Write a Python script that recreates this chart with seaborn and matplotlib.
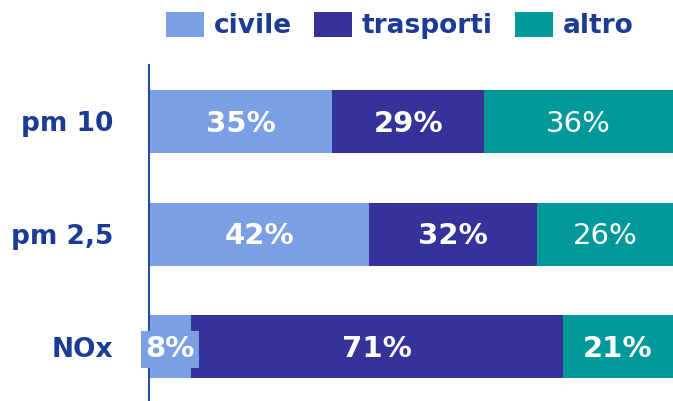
import matplotlib
matplotlib.use("Agg")
import matplotlib.pyplot as plt
import seaborn as sns
import numpy as np
import pandas as pd
from matplotlib.patches import Patch

# data
categories = ["pm 10", "pm 2,5", "NOx"]
series = ["civile", "trasporti", "altro"]
civile = [35, 42, 8]
trasporti = [29, 32, 71]
altro = [36, 26, 21]
bold_labels = [[True, True, False], [True, True, False], [True, True, True]]

colors = ["#7A9FE3", "#35339A", "#009999"]
text_blue = "#1B3C94"

sns.set_style("white")
plt.rcParams["font.family"] = ["DejaVu Sans"]

values = np.array([civile, trasporti, altro], dtype=float)
cum = values.cumsum(axis=0)

fig = plt.figure(figsize=(6.73, 4.01), dpi=100)
ax = fig.add_axes([149 / 673, 0, 1 - 149 / 673, 336 / 401])

# stacked bars drawn back to front
for i in reversed(range(len(series))):
    df = pd.DataFrame({"cat": categories, "val": cum[i]})
    sns.barplot(data=df, x="val", y="cat", orient="h", color=colors[i],
                width=0.56, saturation=1, ax=ax, order=categories,
                linewidth=0, edgecolor="none")

# value labels
for j in range(len(categories)):
    for i in range(len(series)):
        left = cum[i, j] - values[i, j]
        xc = left + values[i, j] / 2
        w = "bold" if bold_labels[j][i] else "normal"
        kw = {}
        if values[i, j] < 10:
            kw["bbox"] = dict(boxstyle="square,pad=0.15", fc=colors[i], ec="none")
        ax.text(xc, j + 0.02, f"{int(values[i, j])}%", ha="center", va="center",
                color="white", fontsize=21, fontweight=w, **kw)

ax.set_xlim(0, 100)
ax.set_ylim(2.48, -0.5)
ax.set_xlabel("")
ax.set_ylabel("")
ax.set_xticks([])
ax.tick_params(axis="y", length=0, pad=26)
for lab in ax.get_yticklabels():
    lab.set_fontsize(19)
    lab.set_fontweight("bold")
    lab.set_color(text_blue)
for s in ["top", "right", "bottom"]:
    ax.spines[s].set_visible(False)
ax.spines["left"].set_color("#2A4AA0")
ax.spines["left"].set_linewidth(1.5)

handles = [Patch(facecolor=c, edgecolor="none") for c in colors]
leg = fig.legend(handles, series, loc="center", bbox_to_anchor=(0.594, 0.936),
                 ncol=3, frameon=False, handlelength=1.44, handleheight=1.1,
                 handletextpad=0.38, columnspacing=0.83,
                 prop={"size": 19, "weight": "bold"})
for t in leg.get_texts():
    t.set_color(text_blue)

fig.savefig("out.png", dpi=100)
